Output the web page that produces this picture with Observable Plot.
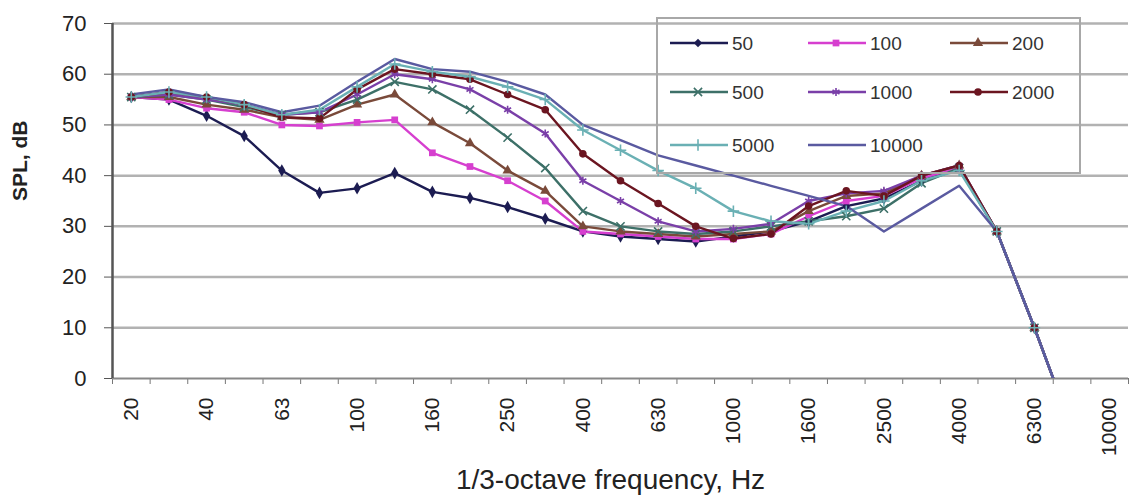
<!DOCTYPE html>
<html>
<head>
<meta charset="utf-8">
<script src="https://cdn.jsdelivr.net/npm/d3@7"></script>
<script src="https://cdn.jsdelivr.net/npm/@observablehq/plot@0.6"></script>
<style>
  html, body { margin: 0; padding: 0; background: #fff; }
  #wrap { position: relative; width: 1130px; height: 500px; overflow: hidden; }
  #legend { position: absolute; left: 0; top: 0; pointer-events: none; }
</style>
</head>
<body>
<div id="wrap"></div>
<script>
// ---- data ----
const freqs = ["20","25","40","50","63","80","100","125","160","200","250","315","400","500","630","800","1000","1250","1600","2000","2500","3150","4000","5000","6300","8000","10000"];
const tickLabels = ["20","40","63","100","160","250","400","630","1000","1600","2500","4000","6300","10000"];
const yTicks = [0,10,20,30,40,50,60,70];
const seriesNames = ["50","100","200","500","1000","2000","5000","10000"];
const s50    = [55.5,55.0,51.8,47.8,41.0,36.6,37.5,40.5,36.8,35.6,33.8,31.5,29.0,28.0,27.5,27.0,28.0,29.0,31.0,34.0,35.5,39.0,41.5,29.0,10.0,-10.0,null];
const s100   = [55.5,55.0,53.3,52.5,50.0,49.8,50.5,51.0,44.5,41.8,39.0,35.0,29.0,28.5,28.0,27.5,27.5,28.5,32.0,35.0,36.0,39.5,41.5,29.0,10.0,-10.0,null];
const s200   = [55.5,55.5,54.0,53.0,51.5,51.0,54.0,56.0,50.5,46.4,41.0,37.0,30.0,29.0,28.5,28.0,28.5,29.0,33.0,36.0,36.5,40.0,42.0,29.0,10.0,-10.0,null];
const s500   = [55.5,56.0,55.0,53.5,52.0,52.5,55.0,58.5,57.0,53.0,47.5,41.5,33.0,30.0,29.0,28.5,29.0,30.0,31.0,32.0,33.5,38.5,41.5,29.0,10.0,-10.0,null];
const s1000  = [55.5,56.0,55.0,54.0,52.0,52.5,56.0,60.0,59.0,57.0,53.0,48.3,39.0,35.0,31.0,29.0,29.5,30.5,35.0,36.5,37.0,40.0,42.0,29.0,10.0,-10.0,null];
const s2000  = [55.5,56.5,55.5,54.0,51.5,51.3,57.0,61.0,60.0,59.0,56.0,53.0,44.3,39.0,34.5,30.0,27.6,28.5,34.0,37.0,36.0,40.0,42.0,29.0,10.0,-10.0,null];
const s5000  = [55.5,56.5,55.5,54.0,52.0,53.0,57.5,62.0,60.5,59.5,57.5,55.0,49.0,45.0,41.0,37.5,33.0,31.0,30.5,33.0,35.0,39.0,41.0,29.0,10.0,-10.0,null];
const s10000 = [56.0,57.0,55.5,54.5,52.5,53.8,58.5,63.0,61.0,60.5,58.5,56.0,50.0,47.0,44.0,42.0,40.0,38.0,36.0,34.0,29.0,33.5,38.0,29.0,10.0,-10.0,null];
const seriesValues = [s50, s100, s200, s500, s1000, s2000, s5000, s10000];

// ---- styles ----
const colors  = ["#1c1c52","#d63fcf","#7a4a3a","#3d7068","#7a3fa8","#6b1520","#6ab0b4","#5a5aa0"];
const symbols = ["diamond","square","triangle","times","asterisk","circle","plus",null];
const filled  = [true,true,true,false,false,true,false,false];

const rows = [];
seriesNames.forEach((name, si) => {
  seriesValues[si].forEach((v, i) => {
    rows.push({series: name, idx: i + 0.5, freq: freqs[i], value: v});
  });
});

const marks = [
  Plot.gridY(yTicks.filter(d => d > 0), {stroke: "#b2b2b2", strokeWidth: 2.5, strokeOpacity: 1}),
  Plot.axisY({ticks: yTicks, tickSize: 8, tickPadding: 18, fontSize: 22, label: null, stroke: "#555"}),
  Plot.axisX({ticks: d3.range(freqs.length + 1), tickSize: 6, tickFormat: () => "", label: null, stroke: "#777"}),
  Plot.axisX({
    ticks: tickLabels.map(t => freqs.indexOf(t) + 0.5),
    tickFormat: d => freqs[Math.round(d - 0.5)],
    tickSize: 0, tickRotate: -90, tickPadding: 19, fontSize: 21, label: null
  }),
  Plot.ruleY([0], {stroke: "#888", strokeWidth: 2}),
  Plot.ruleX([0], {stroke: "#555", strokeWidth: 2.5}),
];

seriesNames.forEach((name, si) => {
  const d = rows.filter(r => r.series === name);
  marks.push(Plot.line(d, {x: "idx", y: "value", stroke: colors[si], strokeWidth: 2.4, clip: true}));
});
seriesNames.forEach((name, si) => {
  if (!symbols[si]) return;
  const d = rows.filter(r => r.series === name && r.value != null && r.value >= 0);
  marks.push(Plot.dot(d, filled[si]
    ? {x: "idx", y: "value", symbol: symbols[si], r: 3.8, fill: colors[si], stroke: "none", clip: true}
    : {x: "idx", y: "value", symbol: symbols[si], r: 3.8, stroke: colors[si], strokeWidth: 1.6, fill: "none", clip: true}));
});

marks.push(Plot.text(["1/3-octave frequency, Hz"], {frameAnchor: "bottom", dy: 110, dx: -10, fontSize: 28, fill: "#222"}));
marks.push(Plot.text(["SPL, dB"], {frameAnchor: "left", rotate: -90, dx: -92, fontSize: 21, fontWeight: "bold", fill: "#222"}));

const chart = Plot.plot({
  width: 1130,
  height: 500,
  marginLeft: 112,
  marginRight: 2,
  marginTop: 23,
  marginBottom: 122,
  style: {fontFamily: "Liberation Sans, Arial, sans-serif", fontSize: "22px", color: "#222", background: "#fff"},
  x: {type: "linear", domain: [0, freqs.length], axis: null},
  y: {domain: [0, 70], axis: null},
  marks
});
document.getElementById("wrap").appendChild(chart);

// ---- legend ----
const leg = d3.select("#wrap").append("svg")
  .attr("id", "legend").attr("width", 1130).attr("height", 500);
leg.append("rect").attr("x", 657).attr("y", 18).attr("width", 423).attr("height", 155)
  .attr("fill", "none").attr("stroke", "#a8a8a8").attr("stroke-width", 2);
const colX = [670, 808, 950];
const rowY = [43, 92, 145];
const symMap = {diamond: d3.symbolDiamond2, square: d3.symbolSquare, triangle: d3.symbolTriangle,
  times: d3.symbolTimes, asterisk: d3.symbolAsterisk, circle: d3.symbolCircle, plus: d3.symbolPlus};
seriesNames.forEach((name, si) => {
  const cx = colX[si % 3], cy = rowY[Math.floor(si / 3)];
  const g = leg.append("g");
  g.append("line").attr("x1", cx).attr("x2", cx + 58).attr("y1", cy).attr("y2", cy)
    .attr("stroke", colors[si]).attr("stroke-width", 2.4);
  if (symbols[si]) {
    const p = g.append("path").attr("transform", `translate(${cx + 28},${cy})`)
      .attr("d", d3.symbol(symMap[symbols[si]], Math.PI * 3.8 * 3.8)());
    if (filled[si]) p.attr("fill", colors[si]);
    else p.attr("fill", "none").attr("stroke", colors[si]).attr("stroke-width", 1.6);
  }
  g.append("text").attr("x", cx + 62).attr("y", cy).attr("dy", "0.35em")
    .attr("font-family", "Liberation Sans, Arial, sans-serif").attr("font-size", 19)
    .attr("fill", "#333").text(name);
});
</script>
</body>
</html>
